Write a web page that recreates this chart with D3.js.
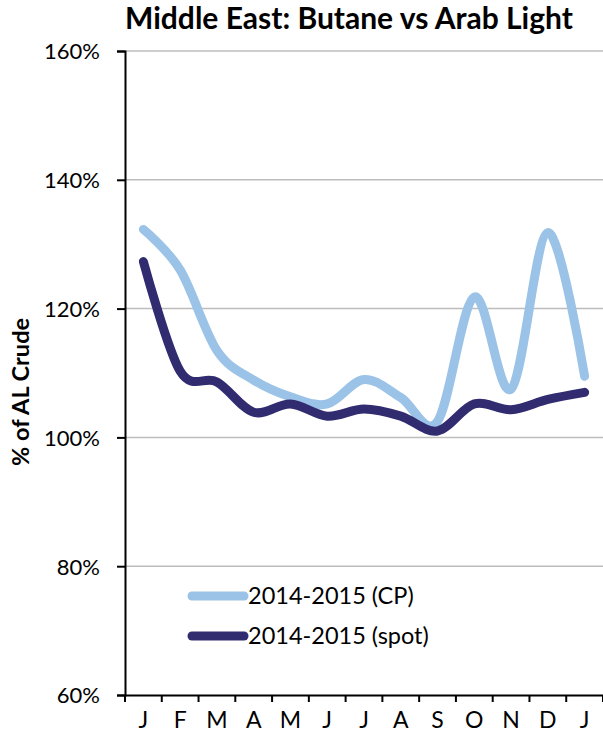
<!DOCTYPE html>
<html>
<head>
<meta charset="utf-8">
<script src="https://cdn.jsdelivr.net/npm/d3@7"></script>
<style>
  body { margin: 0; background: #fff; }
  text { font-family: Lato, "Open Sans", sans-serif; fill: #000; }
</style>
</head>
<body>
<script>
// size of the picture
var w = 603;
var h = 744;

// data
var months = ["J", "F", "M", "A", "M", "J", "J", "A", "S", "O", "N", "D", "J"];
var cpValues = [132.3, 126, 113.5, 108.9, 106.3, 105.2, 109, 106.2, 102.5, 121.8, 107.5, 131.8, 109.5];
var spotValues = [127.3, 110.3, 108.6, 103.9, 105.2, 103.3, 104.4, 103.3, 101, 105.2, 104.3, 105.9, 107];
var yTicks = [60, 80, 100, 120, 140, 160];
var seriesNames = ["2014-2015 (CP)", "2014-2015 (spot)"];
var seriesColors = ["#9bc3e7", "#312b70"];

var svg = d3.select("body")
            .append("svg")
            .attr("width", w)
            .attr("height", h);

// plot area edges
var plotLeft = 125, plotRight = 603, plotTop = 51, plotBottom = 695;

var x = d3.scaleBand()
          .domain(d3.range(months.length))
          .range([plotLeft, plotRight]);

var y = d3.scaleLinear()
          .domain([60, 160])
          .range([plotBottom, plotTop]);

// gridlines
svg.append("g")
   .selectAll("line")
   .data(yTicks.slice(1))
   .enter()
   .append("line")
   .attr("x1", plotLeft)
   .attr("x2", w)
   .attr("y1", function(d) { return y(d); })
   .attr("y2", function(d) { return y(d); })
   .attr("stroke", "#bdbdbd")
   .attr("stroke-width", 1.5);

// y axis
var yAxis = svg.append("g")
   .attr("transform", "translate(" + plotLeft + ",0)")
   .call(d3.axisLeft(y).tickValues(yTicks).tickSize(8).tickPadding(17)
           .tickFormat(function(d) { return d + "%"; }));
yAxis.selectAll("text").style("font-size", "22px").attr("dy", "0.36em");

// x axis
var xAxis = svg.append("g")
   .attr("transform", "translate(0," + plotBottom + ")")
   .call(d3.axisBottom(x).tickSize(0).tickPadding(17)
           .tickFormat(function(i) { return months[i]; }));
xAxis.selectAll("text").style("font-size", "23px").attr("dy", "0.71em");

// tick marks between the months
xAxis.selectAll("line.sep")
     .data(d3.range(months.length + 1))
     .enter()
     .append("line")
     .attr("class", "sep")
     .attr("x1", function(i) { return plotLeft + i * x.bandwidth(); })
     .attr("x2", function(i) { return plotLeft + i * x.bandwidth(); })
     .attr("y1", 0)
     .attr("y2", 7)
     .attr("stroke", "#000")
     .attr("stroke-width", 2);

svg.selectAll(".domain").attr("stroke", "#000").attr("stroke-width", 2);
svg.selectAll(".tick line").attr("stroke", "#000").attr("stroke-width", 2);

// smoothed lines
var line = d3.line()
             .x(function(d, i) { return x(i) + x.bandwidth() / 2; })
             .y(function(d) { return y(d); })
             .curve(d3.curveCardinal.tension(0));

[cpValues, spotValues].forEach(function(vals, k) {
  svg.append("path")
     .datum(vals)
     .attr("d", line)
     .attr("fill", "none")
     .attr("stroke", seriesColors[k])
     .attr("stroke-width", 9)
     .attr("stroke-linecap", "round")
     .attr("stroke-linejoin", "round");
});

// legend
var legend = svg.selectAll("g.legend")
                .data(seriesNames)
                .enter()
                .append("g")
                .attr("class", "legend")
                .attr("transform", function(d, i) { return "translate(192," + (596 + i * 40) + ")"; });

legend.append("line")
      .attr("x1", 0)
      .attr("x2", 52)
      .attr("stroke", function(d, i) { return seriesColors[i]; })
      .attr("stroke-width", 9)
      .attr("stroke-linecap", "round");

legend.append("text")
      .attr("x", 56)
      .attr("dy", "0.36em")
      .style("font-size", "23.5px")
      .text(function(d) { return d; });

// title
svg.append("text")
   .attr("x", 349)
   .attr("y", 29)
   .attr("text-anchor", "middle")
   .style("font-size", "30px")
   .style("font-weight", "bold")
   .text("Middle East: Butane vs Arab Light");

// y axis title
svg.append("text")
   .attr("transform", "translate(29,392) rotate(-90)")
   .attr("text-anchor", "middle")
   .style("font-size", "23.5px")
   .style("font-weight", "bold")
   .text("% of AL Crude");
</script>
</body>
</html>
